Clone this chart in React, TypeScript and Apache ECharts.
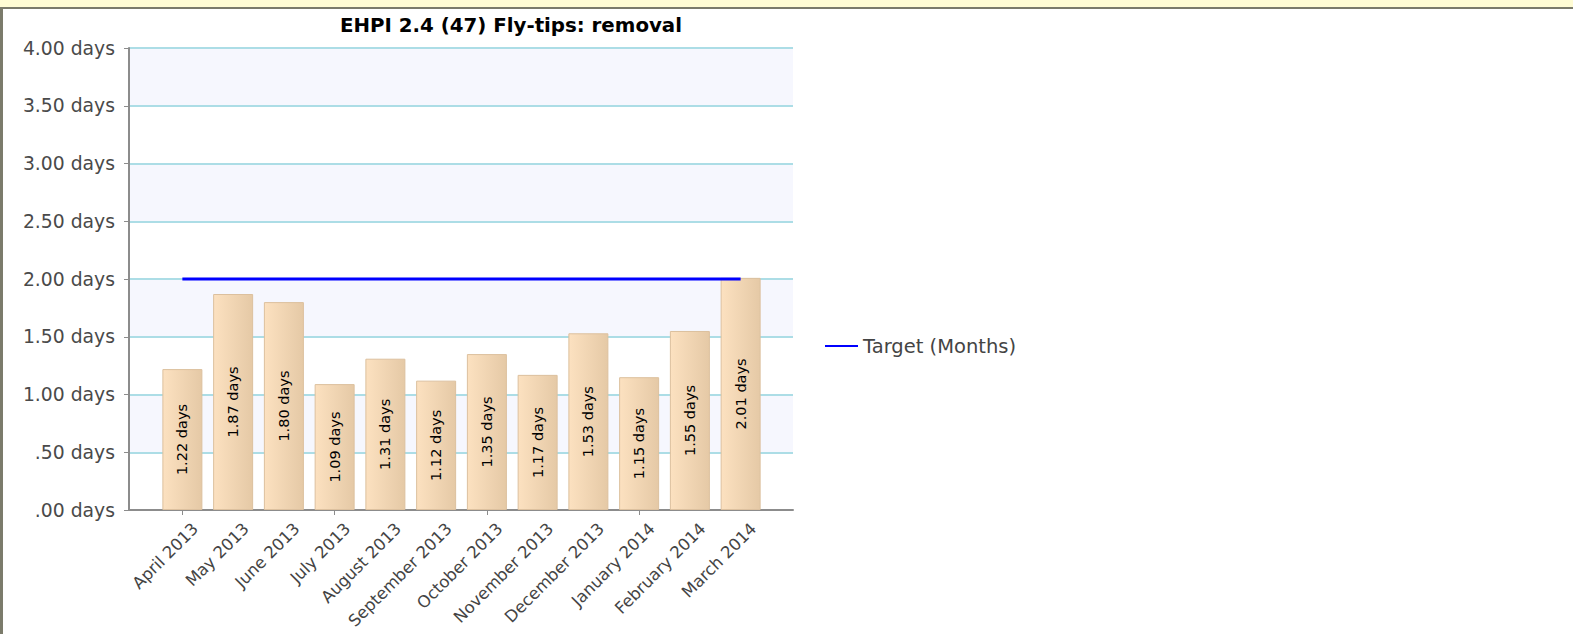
import React, { useEffect, useRef } from "react";
import * as echarts from "echarts";

const titleText = "EHPI 2.4 (47) Fly-tips: removal";
const months = [
  "April 2013",
  "May 2013",
  "June 2013",
  "July 2013",
  "August 2013",
  "September 2013",
  "October 2013",
  "November 2013",
  "December 2013",
  "January 2014",
  "February 2014",
  "March 2014",
];
const actualDays = [1.22, 1.87, 1.8, 1.09, 1.31, 1.12, 1.35, 1.17, 1.53, 1.15, 1.55, 2.01];
const targetDays = [2, 2, 2, 2, 2, 2, 2, 2, 2, 2, 2, 2];
const targetName = "Target (Months)";

const FONT = "DejaVu Sans";

function fmtDays(v: number): string {
  let s = v.toFixed(2);
  if (s.startsWith("0")) s = s.slice(1);
  return s + " days";
}

export default function App() {
  const ref = useRef<HTMLDivElement>(null);
  useEffect(() => {
    if (!ref.current) return;
    const chart = echarts.init(ref.current, undefined, { renderer: "svg" });
    const option: any = {
      animation: false,
      backgroundColor: "#ffffff",
      textStyle: { fontFamily: FONT },
      graphic: [
        { type: "rect", shape: { x: 0, y: 0, width: 1573, height: 7 }, style: { fill: "#fffcd4" }, silent: true },
        { type: "rect", shape: { x: 0, y: 7, width: 1573, height: 2 }, style: { fill: "#7b7b6b" }, silent: true },
        { type: "rect", shape: { x: 0, y: 7, width: 3, height: 627 }, style: { fill: "#7b7b6b" }, silent: true },
        {
          type: "text",
          x: 511,
          y: 25,
          style: {
            text: titleText,
            fontFamily: FONT,
            fontWeight: "bold",
            fontSize: 19.8,
            fill: "#000000",
            textAlign: "center",
            textVerticalAlign: "middle",
          },
          silent: true,
        },
      ],
      legend: {
        data: [targetName],
        left: 820,
        top: 331,
        icon: "rect",
        itemWidth: 33,
        itemHeight: 2,
        textStyle: { fontFamily: FONT, fontSize: 19.5, color: "#444444" },
      },
      grid: [
        { left: 129, top: 48, width: 664, height: 462, containLabel: false },
        { left: 157, top: 48, width: 609, height: 462, containLabel: false },
        { left: 170, top: 48, width: 609, height: 462, containLabel: false },
      ],
      xAxis: [
        {
          type: "category",
          gridIndex: 0,
          data: months,
          axisLabel: { show: false },
          axisTick: { show: false },
          axisLine: { show: true, lineStyle: { color: "#8c8c8c", width: 2 } },
          splitLine: { show: false },
        },
        {
          type: "category",
          gridIndex: 1,
          data: months,
          axisLine: { show: false },
          axisTick: { show: true, alignWithLabel: true, length: 5, lineStyle: { color: "#8c8c8c", width: 1 } },
          axisLabel: { show: false },
        },
        {
          type: "category",
          gridIndex: 2,
          data: months,
          axisLine: { show: false },
          axisTick: { show: false },
          axisLabel: {
            rotate: 45,
            interval: 0,
            fontFamily: FONT,
            fontSize: 16.5,
            color: "#444444",
            margin: 16,
          },
        },
      ],
      yAxis: [
        {
          type: "value",
          gridIndex: 0,
          min: 0,
          max: 4,
          interval: 0.5,
          axisLine: { show: true, lineStyle: { color: "#8c8c8c", width: 2 } },
          axisTick: { show: true, length: 5, lineStyle: { color: "#8c8c8c", width: 1 } },
          axisLabel: {
            formatter: (v: number) => fmtDays(v),
            fontFamily: FONT,
            fontSize: 18.8,
            color: "#4a4a4a",
            margin: 14,
          },
          splitLine: { show: true, lineStyle: { color: "#acdde6", width: 2 } },
          splitArea: { show: true, areaStyle: { color: ["#ffffff", "#f6f7fe"] } },
        },
        {
          type: "value",
          gridIndex: 1,
          min: 0,
          max: 4,
          interval: 0.5,
          show: false,
          splitLine: { show: false },
        },
        {
          type: "value",
          gridIndex: 2,
          min: 0,
          max: 4,
          interval: 0.5,
          show: false,
          splitLine: { show: false },
        },
      ],
      series: [
        {
          name: "Actual",
          type: "bar",
          xAxisIndex: 1,
          yAxisIndex: 1,
          data: actualDays,
          barWidth: 40,
          itemStyle: {
            color: new echarts.graphic.LinearGradient(0, 0, 1, 0, [
              { offset: 0, color: "#fce1c0" },
              { offset: 1, color: "#e5c9a6" },
            ]),
            borderColor: "#dcc09e",
            borderWidth: 1,
          },
          label: {
            show: true,
            position: "inside",
            rotate: 90,
            formatter: (p: any) => fmtDays(p.value),
            fontFamily: FONT,
            fontSize: 14.5,
            color: "#000000",
          },
          z: 2,
        },
        {
          name: targetName,
          type: "line",
          xAxisIndex: 1,
          yAxisIndex: 1,
          data: targetDays,
          lineStyle: { color: "#0000ff", width: 3 },
          itemStyle: { color: "#0000ff" },
          symbol: "none",
          z: 5,
        },
      ],
    };
    chart.setOption(option);
    return () => chart.dispose();
  }, []);
  return (
    <div
      ref={ref}
      style={{ position: "absolute", left: 0, top: 0, width: 1573, height: 634, background: "#fff" }}
    />
  );
}
